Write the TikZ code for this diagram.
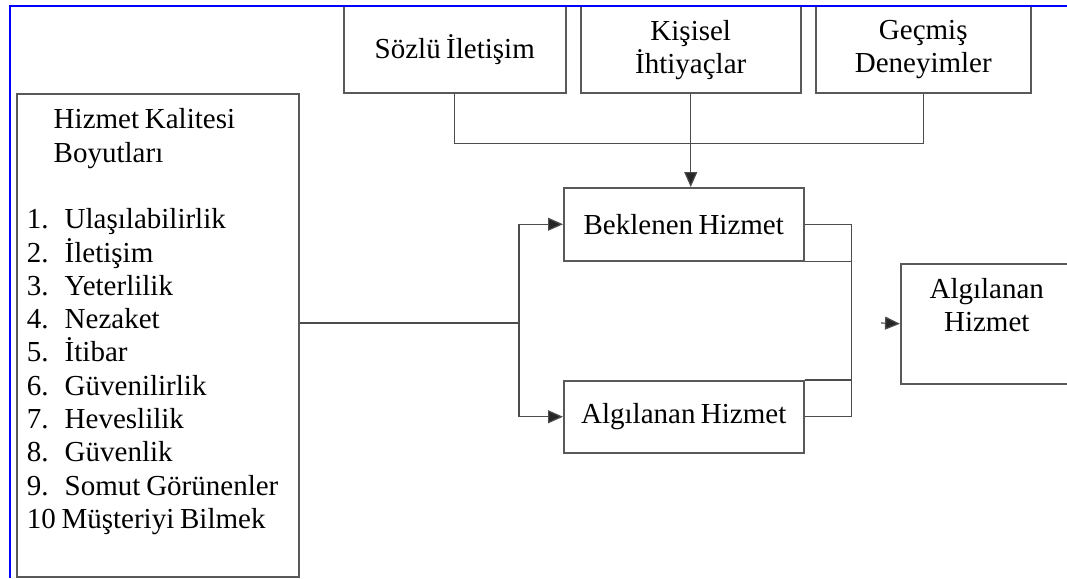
\documentclass[tikz,border=0pt]{standalone}
\usepackage{fontspec}
\setmainfont[WordSpace=0.75]{Liberation Serif}
\usetikzlibrary{arrows.meta}

\begin{document}
\begin{tikzpicture}[x=1pt,y=1pt]
    \tikzstyle{every node}+=[inner sep=0pt, text=black, font=\fontsize{29}{33.3}\selectfont]
    \tikzstyle{box}=[draw=black!65, line width=1.5pt, align=center, anchor=north west]
    \tikzstyle{link}=[draw=black!70, line width=1.2pt]
    \tikzstyle{arr}=[link, -{Triangle[length=15pt,width=13pt,fill=black!85]}]
    \clip (0,0) rectangle (1067,-578);
    % inputs at the top
    \node [box, minimum width=222, minimum height=86] (sozlu) at (343,-6) {Sözlü İletişim};
    \node [box, minimum width=220, minimum height=86] (kisisel) at (580,-6) {Kişisel\\İhtiyaçlar};
    \node [box, minimum width=215, minimum height=86] (gecmis) at (815,-6) {Geçmiş\\Deneyimler};
    % dimensions list
    \node [box, align=left, text width=262, inner xsep=10, minimum height=483, text depth=433pt] (boyut) at (16,-93)
        {\spaceskip=5.8pt\relax
         \hspace*{27pt}Hizmet Kalitesi\\ \hspace*{27pt}Boyutları\\[33.3pt]
         \makebox[38pt][l]{1.}Ulaşılabilirlik\\
         \makebox[38pt][l]{2.}İletişim\\
         \makebox[38pt][l]{3.}Yeterlilik\\
         \makebox[38pt][l]{4.}Nezaket\\
         \makebox[38pt][l]{5.}İtibar\\
         \makebox[38pt][l]{6.}Güvenilirlik\\
         \makebox[38pt][l]{7.}Heveslilik\\
         \makebox[38pt][l]{8.}Güvenlik\\
         \makebox[38pt][l]{9.}Somut Görünenler\\
         10 Müşteriyi Bilmek};
    % middle and result
    \node [box, minimum width=240, minimum height=73] (bek) at (563,-187) {Beklenen Hizmet};
    \node [box, minimum width=240, minimum height=72] (alg) at (563,-380) {Algılanan Hizmet};
    \node [box, minimum width=172, minimum height=120, text depth=38pt] (sonuc) at (900,-263) {Algılanan\\Hizmet};
    % connectors
    \draw [link] (sozlu.south) -- ++(0,-50) -| (gecmis.south);
    \draw [arr] (kisisel.south) -- (kisisel.south |- bek.north);
    \coordinate (split) at (519,-323);
    \draw [link] (boyut.east |- split) -- (split);
    \draw [arr] (split) |- (bek.west);
    \draw [arr] (split) |- (alg.west);
    \draw [link] (bek.east) -- ++(47,0) coordinate (join) |- (alg.east);
    \draw [link] (bek.south east) -- (bek.south east -| join);
    \draw [link] (alg.north east) -- (alg.north east -| join);
    \coordinate (tip) at (881,-323);
    \draw [arr] (tip) -- (sonuc.west);
    % frame
    \draw [blue, line width=2pt] (10,-578) -- (10,-6) -- (1067,-6);
\end{tikzpicture}
\end{document}
